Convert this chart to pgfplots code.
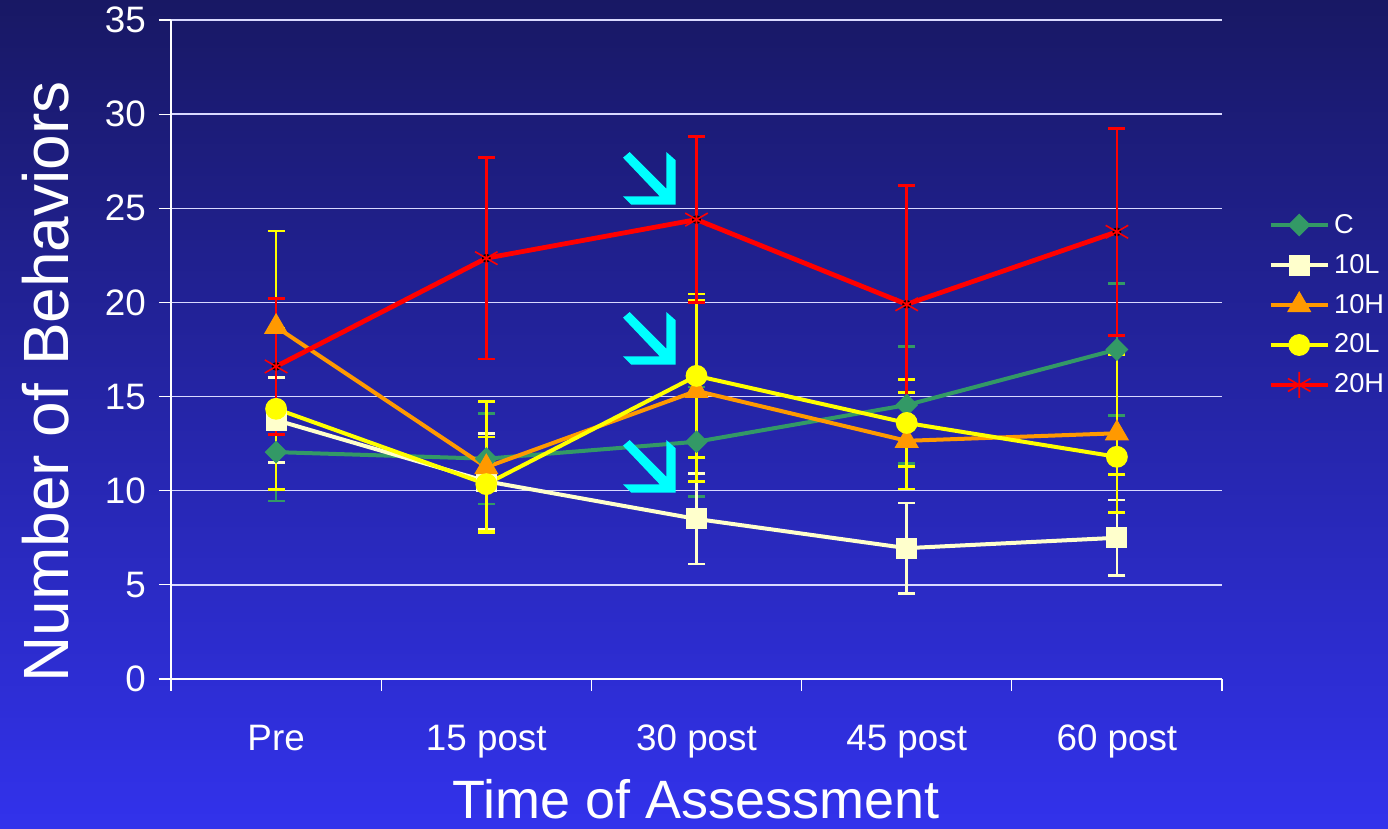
\documentclass[border=0pt]{standalone}
\usepackage{pgfplots}
\pgfplotsset{compat=1.18}
\usepackage{pgfplotstable}
\usepackage{fontspec}
\setmainfont{Liberation Sans}
\definecolor{bgtop}{RGB}{24,24,100}
\definecolor{bgbot}{RGB}{50,50,236}
\definecolor{cgreen}{RGB}{51,153,102}
\definecolor{lwhite}{RGB}{255,255,204}
\definecolor{horange}{RGB}{255,153,0}
\definecolor{lyellow}{RGB}{255,255,0}
\definecolor{hred}{RGB}{255,0,0}
\definecolor{arrowcyan}{RGB}{0,255,255}

\pgfplotstableread{
x y e
0.5 12.05 2.6
1.5 11.7 2.4
2.5 12.6 2.9
3.5 14.55 3.1
4.5 17.5 3.5
}\tblC
\pgfplotstableread{
x y e
0.5 13.75 2.25
1.5 10.5 2.55
2.5 8.5 2.4
3.5 6.95 2.4
4.5 7.5 2.0
}\tblLL
\pgfplotstableread{
x y e
0.5 18.7 5.1
1.5 11.25 3.5
2.5 15.3 4.8
3.5 12.65 2.55
4.5 13.05 4.2
}\tblLH
\pgfplotstableread{
x y e
0.5 14.35 4.3
1.5 10.35 2.5
2.5 16.1 4.35
3.5 13.6 2.3
4.5 11.8 0.95
}\tblHL
\pgfplotstableread{
x y e
0.5 16.6 3.6
1.5 22.35 5.35
2.5 24.4 4.4
3.5 19.9 6.3
4.5 23.75 5.5
}\tblHH

\pgfplotsset{
  errplot/.style={only marks, mark=none, forget plot,
    error bars/.cd, y dir=both, y explicit,
    error bar style={line width=1.3pt, draw=#1, solid},
    error mark options={rotate=90, mark size=4.25pt, line width=1.3pt, draw=#1, solid}},
}

\newcommand{\cyanarrow}[2]{%
  \fill[arrowcyan] (#1+6.7,#2) -- (#1+43.3,#2+36.7) -- (#1+43.3,#2) -- (#1+52.7,#2+8.3)
    -- (#1+52.7,#2+52.7) -- (#1+8.3,#2+52.7) -- (#1,#2+44.3) -- (#1+36.7,#2+44.3)
    -- (#1,#2+5.7) -- cycle;}

\begin{document}
\begin{tikzpicture}
\path[use as bounding box] (0,0) rectangle (694pt,414.5pt);
\shade[top color=bgtop, bottom color=bgbot] (0,0) rectangle (694pt,414.5pt);
\begin{axis}[
  at={(85.5pt,75pt)}, anchor=south west,
  width=525.5pt, height=329.5pt, scale only axis,
  xmin=0, xmax=5, ymin=0, ymax=35,
  axis x line*=bottom, axis y line*=left,
  axis line style={white, line width=0.8pt, -},
  xtick={0,1,2,3,4,5},
  xticklabels={Pre,15 post,30 post,45 post,60 post,},
  ytick={0,5,...,35},
  tick align=outside, major tick length=6pt,
  tick style={white, line width=0.6pt},
  ymajorgrids, grid style={white!85!blue, line width=0.7pt},
  /pgf/number format/assume math mode=true,
  ticklabel style={font=\fontsize{18.4}{22}\selectfont, text=white},
  xticklabel style={xshift=52.55pt, anchor=base, yshift=-30pt},
  yticklabel style={anchor=east, xshift=-3pt},
  xlabel={Time of Assessment},
  ylabel={Number of Behaviors},
  every axis x label/.style={at={(axis description cs:0.5,-0.211)}, anchor=base, text=white, font=\fontsize{27}{32}\selectfont},
  every axis y label/.style={at={(axis description cs:-0.119,0.451)}, anchor=center, rotate=90, text=white, font=\fontsize{32}{38}\selectfont},
  legend style={draw=none, fill=none, text=white, font=\fontsize{13.6}{16}\selectfont,
    at={(axis description cs:1.038,0.5675)}, anchor=west, row sep=5pt},
  legend cell align=left,
  legend image code/.code={\draw[mark repeat=2,mark phase=2] plot coordinates {(0pt,0pt)(14.25pt,0pt)(28.5pt,0pt)};},
]
% error bars underneath
\addplot[errplot=cgreen] table[x=x,y=y,y error=e] {\tblC};
\addplot[errplot=lwhite] table[x=x,y=y,y error=e] {\tblLL};
\addplot[errplot=lyellow] table[x=x,y=y,y error=e] {\tblLH};
\addplot[errplot=lyellow] table[x=x,y=y,y error=e] {\tblHL};
\addplot[errplot=hred] table[x=x,y=y,y error=e] {\tblHH};
% series
\addplot[cgreen, line width=2pt, mark=square*, mark size=3.8pt, mark options={rotate=45, solid, fill=cgreen, line width=0.5pt}] table[x=x,y=y] {\tblC};
\addlegendentry{C}
\addplot[lwhite, line width=2pt, mark=square*, mark size=5pt, mark options={solid, fill=lwhite, line width=0.5pt}] table[x=x,y=y] {\tblLL};
\addlegendentry{10L}
\addplot[horange, line width=2pt, mark=triangle*, mark size=6.5pt, mark options={solid, fill=horange, line width=0.5pt}] table[x=x,y=y] {\tblLH};
\addlegendentry{10H}
\addplot[lyellow, line width=2pt, mark=*, mark size=5.2pt, mark options={solid, fill=lyellow, line width=0.5pt}] table[x=x,y=y] {\tblHL};
\addlegendentry{20L}
\addplot[hred, line width=2.4pt, mark=asterisk, mark size=6.5pt, mark options={solid, line width=0.8pt}] table[x=x,y=y] {\tblHH};
\addlegendentry{20H}
\end{axis}
\begin{scope}[x=0.5pt, y=-0.5pt, shift={(0pt,414.5pt)}]
\cyanarrow{623}{152}
\cyanarrow{623}{312}
\cyanarrow{623}{440}
\end{scope}
\end{tikzpicture}
\end{document}
